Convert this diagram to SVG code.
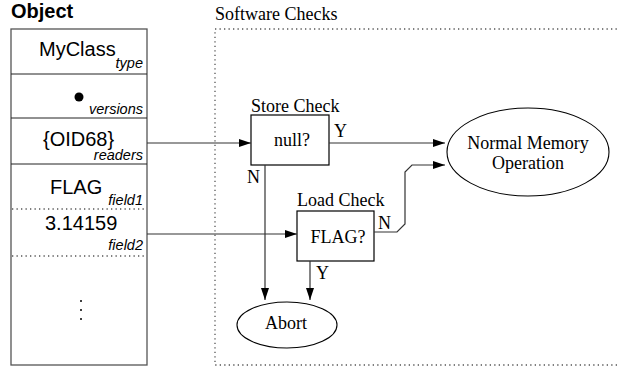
<svg xmlns="http://www.w3.org/2000/svg" width="619" height="368" viewBox="0 0 619 368">
<style>
.sans{font-family:"Liberation Sans",Arial,sans-serif;fill:#000}
.big{font-size:20px}
.sub{font-size:14.5px;font-style:italic;text-anchor:end}
.serif{font-family:"Liberation Serif","Times New Roman",serif;font-size:18px;fill:#000}
.box{fill:#fff;stroke:#000;stroke-width:1.2}
.dots{stroke:#555;stroke-width:1.3;stroke-dasharray:1.3 3.2;fill:none}
.conn{fill:none;stroke:#333;stroke-width:1.2}
</style>
<defs>
<marker id="arr" markerUnits="userSpaceOnUse" markerWidth="13" markerHeight="8" refX="12" refY="4" orient="auto">
<path d="M0,0 L12,4 L0,8 Z" fill="#000"/>
</marker>
</defs>

<g id="software-checks">
<text class="serif" x="215" y="20">Software Checks</text>
<rect class="dots" x="215" y="29" width="420" height="336"/>
</g>

<g id="object">
<text class="sans" x="11" y="18" font-size="20" font-weight="bold">Object</text>
<rect x="11" y="29" width="136" height="336" fill="#fff" stroke="#555" stroke-width="1.3"/>
<line x1="11" y1="74" x2="147" y2="74" stroke="#222" stroke-width="1"/>
<line x1="11" y1="118" x2="147" y2="118" stroke="#222" stroke-width="1"/>
<line x1="11" y1="164" x2="147" y2="164" stroke="#222" stroke-width="1"/>
<line class="dots" x1="12" y1="209" x2="147" y2="209"/>
<line class="dots" x1="12" y1="256" x2="147" y2="256"/>
<text class="sans big" x="39" y="56">MyClass</text>
<text class="sans sub" x="143" y="68">type</text>
<circle cx="79" cy="97" r="4.5" fill="#000"/>
<text class="sans sub" x="143" y="114">versions</text>
<text class="sans big" x="43" y="146">{OID68}</text>
<text class="sans sub" x="143" y="160">readers</text>
<text class="sans big" x="50" y="194">FLAG</text>
<text class="sans sub" x="143" y="205">field1</text>
<text class="sans big" x="45" y="230">3.14159</text>
<text class="sans sub" x="143" y="250">field2</text>
<circle cx="81" cy="301" r="1" fill="#000"/>
<circle cx="81" cy="310" r="1" fill="#000"/>
<circle cx="81" cy="319" r="1" fill="#000"/>
</g>

<g id="store-check">
<text class="serif" x="251" y="112">Store Check</text>
<rect class="box" x="251" y="115" width="78" height="50"/>
<text class="serif" x="292" y="146" text-anchor="middle">null?</text>
</g>

<g id="load-check">
<text class="serif" x="297" y="206">Load Check</text>
<rect class="box" x="297" y="211" width="77" height="50"/>
<text class="serif" x="338" y="243" text-anchor="middle">FLAG?</text>
</g>

<g id="normal-memory">
<ellipse cx="528" cy="152" rx="81" ry="44" fill="#fff" stroke="#000" stroke-width="1.1"/>
<text class="serif" x="528" y="149" text-anchor="middle">Normal Memory</text>
<text class="serif" x="528" y="169" text-anchor="middle">Operation</text>
</g>

<g id="abort">
<ellipse cx="287" cy="325" rx="50" ry="23" fill="#fff" stroke="#000" stroke-width="1.1"/>
<text class="serif" x="286" y="329" text-anchor="middle">Abort</text>
</g>

<g id="connectors">
<path class="conn" d="M147,143 H251" marker-end="url(#arr)"/>
<path class="conn" d="M329,143 H445" marker-end="url(#arr)"/>
<path class="conn" d="M265,165 V300" marker-end="url(#arr)" stroke="#555" stroke-width="1.5"/>
<path class="conn" d="M147,234 H297" marker-end="url(#arr)"/>
<path class="conn" d="M374,232 H397 L405,224 V172 L412,165 H445" marker-end="url(#arr)"/>
<path class="conn" d="M310,261 V300" marker-end="url(#arr)"/>
<text class="serif" x="334" y="137" font-size="17">Y</text>
<text class="serif" x="247" y="183" font-size="17">N</text>
<text class="serif" x="378" y="229" font-size="17">N</text>
<text class="serif" x="316" y="279" font-size="17">Y</text>
</g>
</svg>
